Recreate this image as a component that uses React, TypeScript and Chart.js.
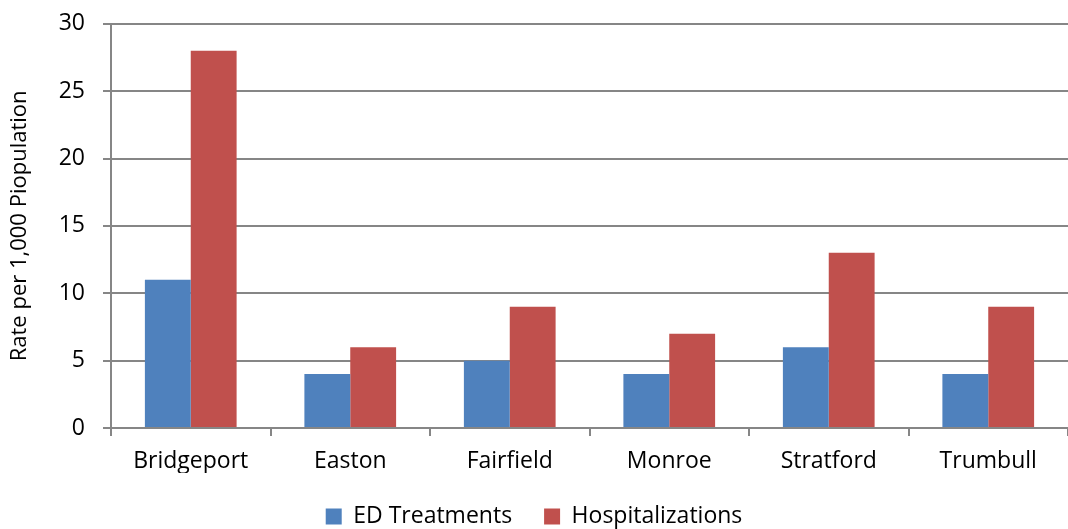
import React, { useEffect, useRef } from "react";
import { Chart, registerables } from "chart.js";

Chart.register(...registerables);

const categories = ["Bridgeport", "Easton", "Fairfield", "Monroe", "Stratford", "Trumbull"];
const edTreatments = [11, 4, 5, 4, 6, 4];
const hospitalizations = [28, 6, 9, 7, 13, 9];
const yTicks = [0, 5, 10, 15, 20, 25, 30];

const FONT = "'Open Sans', sans-serif";
const GRID = "#868686";

export default function App() {
  const ref = useRef<HTMLCanvasElement | null>(null);
  useEffect(() => {
    document.body.style.margin = "0";
    const ctx = ref.current!;
    const chart = new Chart(ctx, {
      type: "bar",
      data: {
        labels: categories,
        datasets: [
          { label: "ED Treatments", data: edTreatments, backgroundColor: "#4F81BD", borderWidth: 0 },
          { label: "Hospitalizations", data: hospitalizations, backgroundColor: "#C0504D", borderWidth: 0 },
        ],
      },
      options: {
        animation: false,
        responsive: false,
        maintainAspectRatio: false,
        layout: { padding: { top: 7, right: 0, left: 0, bottom: -9 } },
        datasets: { bar: { barPercentage: 1, categoryPercentage: 0.575 } },
        plugins: {
          tooltip: { enabled: false },
          legend: {
            position: "bottom",
            labels: {
              font: { family: FONT, size: 23, lineHeight: 1 },
              color: "#000",
              boxWidth: 16,
              boxHeight: 16,
              padding: 32,
            },
          },
        },
        scales: {
          x: {
            afterFit: (scale: any) => {
              scale.height = 45;
            },
            grid: { display: true, drawOnChartArea: false, color: GRID, lineWidth: 2, tickLength: 8, offset: true },
            border: { color: GRID, width: 2 },
            ticks: { font: { family: FONT, size: 23, lineHeight: 1 }, color: "#000", padding: 14 },
          },
          y: {
            min: 0,
            max: 30,
            afterBuildTicks: (scale: any) => {
              scale.ticks = yTicks.map((v) => ({ value: v }));
            },
            afterFit: (scale: any) => {
              scale.width = 111;
            },
            grid: { color: GRID, lineWidth: 2, tickLength: 8 },
            border: { color: GRID, width: 2 },
            ticks: { font: { family: FONT, size: 23, lineHeight: 0.5 }, color: "#000", padding: 18 },
            title: {
              display: true,
              text: "Rate per 1,000 Piopulation",
              font: { family: FONT, size: 22 },
              color: "#000",
              padding: { top: 7, bottom: 0 },
            },
          },
        },
      },
    });
    return () => chart.destroy();
  }, []);
  return (
    <div style={{ width: 1068, height: 529 }}>
      <canvas ref={ref} width={1068} height={529} style={{ width: 1068, height: 529 }} />
    </div>
  );
}
